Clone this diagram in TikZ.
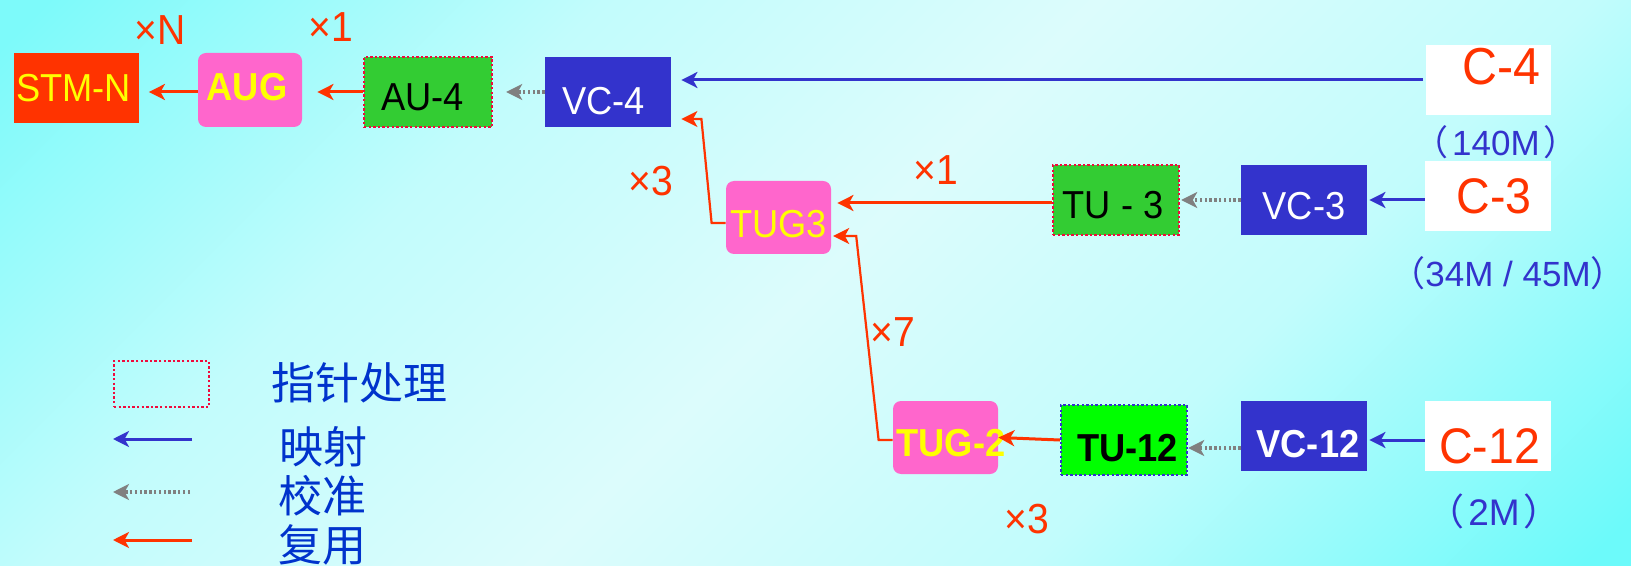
\documentclass[tikz,border=0pt]{standalone}
\usepackage{fontspec}
\setmainfont{Liberation Sans}[FakeStretch=0.93]
\newfontfamily\plainf{Liberation Sans}
\newfontfamily\cjk{Noto Sans CJK SC}
\usetikzlibrary{arrows.meta}
\definecolor{rd}{HTML}{FF3300}
\definecolor{pk}{HTML}{FF66CC}
\definecolor{gn}{HTML}{33CC33}
\definecolor{lgn}{HTML}{00FF00}
\definecolor{bl}{HTML}{3333CC}
\definecolor{yl}{HTML}{FFFF00}
\definecolor{lb}{HTML}{0033CC}
\definecolor{dr}{HTML}{F00A3C}
\definecolor{gy}{HTML}{808080}
\definecolor{bgA}{RGB}{125,250,250}
\definecolor{bgB}{RGB}{108,250,250}
\definecolor{bgL}{RGB}{194,252,252}
\definecolor{bgM}{RGB}{220,252,252}
\pgfdeclareverticalshading{bgsh}{100bp}{color(0bp)=(bgB); color(16bp)=(bgB); color(34bp)=(bgL); color(50bp)=(bgM); color(66bp)=(bgL); color(84bp)=(bgA); color(100bp)=(bgA)}
\newcommand\ct[2][0pt]{\makebox[0pt]{\hspace*{#1}#2}}
\tikzset{
  box/.style={minimum width=63pt, minimum height=35pt, inner sep=0pt, text depth=0pt,
    font=\fontsize{19.5}{20}\selectfont},
  pbox/.style={box, fill=pk, rounded corners=4pt, minimum width=52.5pt, minimum height=36.5pt, text=yl},
  bbox/.style={box, fill=bl, text=white},
  cbox/.style={box, fill=white, text=rd, font=\fontsize{25}{26}\selectfont},
  dotr/.style={draw=dr, line width=1.2pt, dash pattern=on 1.2pt off 1.1pt},
  tipA/.style={-{Stealth[length=8pt,width=8pt,inset=2.2pt]}},
  mux/.style={draw=rd, line width=1.5pt, tipA},
  muxt/.style={draw=rd, line width=1.1pt, tipA},
  map/.style={draw=bl, line width=1.5pt, tipA},
  cal/.style={draw=gy, line width=1.6pt, dash pattern=on 1.2pt off 1.2pt, tipA},
  times/.style={text=rd, font=\fontsize{21}{21}\selectfont, inner sep=0pt},
  rate/.style={text=bl, font=\plainf\fontsize{17.5}{18}\selectfont, inner sep=0pt},
  lgtext/.style={text=lb, font=\cjk\fontsize{22}{22}\selectfont, inner sep=0pt},
}
\begin{document}
\begin{tikzpicture}[x=0.5pt, y=-0.5pt]
\useasboundingbox (0,0) rectangle (1631,566);
\shade[shading=bgsh, shading angle=45] (0,0) rectangle (1631,566);

% top row
\node[box, fill=rd, text=yl, minimum width=62.5pt, text height=14pt] (stm) at (76,88) {\ct[-2.5pt]{STM-N}};
\node[pbox, minimum width=52pt, minimum height=37pt, text height=11pt, font=\bfseries\fontsize{19.5}{20}\selectfont] (aug) at (250,90) {\ct[-3pt]{AUG}};
\node[box, fill=gn, dotr, minimum width=64pt, text height=19pt] (au4) at (428,92) {\ct[-5.5pt]{AU-4}};
\node[bbox, text height=22.5pt] (vc4) at (608,92) {\ct[-4.5pt]{VC-4}};
\node[cbox, minimum width=62.5pt, text height=4.6pt, font=\fontsize{26}{26}\selectfont] (c4) at (1488,80) {\ct[13.5pt]{C-4}};

% middle row
\node[cbox, text height=18pt] (c3) at (1488,196) {\ct[6pt]{C-3}};
\node[bbox, text height=20pt] (vc3) at (1304,200) {VC-3};
\node[box, fill=gn, dotr, text height=18.5pt] (tu3) at (1116,200) {\ct[-3pt]{TU - 3}};
\node[pbox, text height=20.5pt] (tug3) at (778.5,217.5) {\ct{TUG3}};

% bottom row
\node[pbox, text height=19pt, font=\bfseries\fontsize{19.5}{20}\selectfont] (tug2) at (945.5,437.5) {\ct[5.5pt]{TUG-2}};
\node[box, fill=lgn, draw=bl, line width=1.2pt, dash pattern=on 1.2pt off 1.1pt, text height=21pt, font=\bfseries\fontsize{19.5}{20}\selectfont] (tu12) at (1124,440) {\ct[3.5pt]{TU-12}};
\node[bbox, text height=21pt, font=\bfseries\fontsize{19.5}{20}\selectfont] (vc12) at (1304,436) {\ct[4pt]{VC-12}};
\node[cbox, text height=27.5pt] (c12) at (1488,436) {\ct[1.5pt]{C-12}};

% rates
\node[rate] (r1) at (1496,142) {{\cjk（}\hspace{2pt}140M\hspace{2pt}{\cjk）}};
\node[rate] (r2) at (1508,273) {{\cjk（}34M / 45M{\cjk）}};
\node[rate, font=\plainf\fontsize{18.5}{19}\selectfont] (r3) at (1494,511) {{\cjk（}\hspace{2pt}2M\hspace{2pt}{\cjk）}};

% multiplicities
\node[times] (xN) at (160.5,30.5) {×N};
\node[times] (x1a) at (331,27) {×1};
\node[times] (x1b) at (936,170.5) {×1};
\node[times] (x3a) at (651,181) {×3};
\node[times] (x7) at (893,332) {×7};
\node[times] (x3b) at (1027,519) {×3};

% connectors
\draw[mux, shorten >=5pt] (aug.west |- 0,92) -- (stm.east |- 0,92);
\draw[mux, shorten >=7.5pt] (au4.west) -- (aug.east |- au4.west);
\draw[cal, shorten >=6.5pt] (vc4.west) -- (au4.east);
\draw[map, shorten >=5pt, shorten <=1pt] (c4.west) -- (vc4.east |- c4.west);
\draw[muxt] (tug3.west |- 0,223) -- ++(-14,0) -- ([xshift=15pt,yshift=-13.5pt]vc4.east) -- ([xshift=5pt,yshift=-13.5pt]vc4.east);
\draw[mux, shorten >=3pt] (tu3.west |- 0,203) -- (tug3.east |- 0,203);
\draw[cal, shorten >=0.5pt] (vc3.west) -- (tu3.east);
\draw[map, shorten >=1pt] (c3.west |- 0,200) -- (vc3.east |- 0,200);
\draw[muxt] (tug2.west |- 0,440) -- ++(-14,0) -- ([xshift=12.4pt,yshift=-9.25pt]tug3.east) -- ([xshift=0.9pt,yshift=-9.25pt]tug3.east);
\draw[mux] (tu12.west) -- (tug2.east);
\draw[cal] (vc12.west |- 0,448) -- (tu12.east |- 0,448);
\draw[map, shorten >=1pt] (c12.west |- 0,440) -- (vc12.east |- 0,440);

% legend
\node[dotr, minimum width=47.5pt, minimum height=23pt, inner sep=0pt] (lgbox) at (161.5,384) {};
\node[lgtext] (t1) at (359,383) {指针处理};
\node[lgtext] (t2) at (323,447) {映射};
\node[lgtext] (t3) at (322,496) {校准};
\node[lgtext] (t4) at (322,545) {复用};
\coordinate (m1s) at (192,439); \coordinate (m1e) at (113,439);
\coordinate (m2s) at (190,492); \coordinate (m2e) at (113,492);
\coordinate (m3s) at (192,540); \coordinate (m3e) at (113,540);
\draw[map] (m1s) -- (m1e);
\draw[cal] (m2s) -- (m2e);
\draw[mux] (m3s) -- (m3e);
\end{tikzpicture}
\end{document}
